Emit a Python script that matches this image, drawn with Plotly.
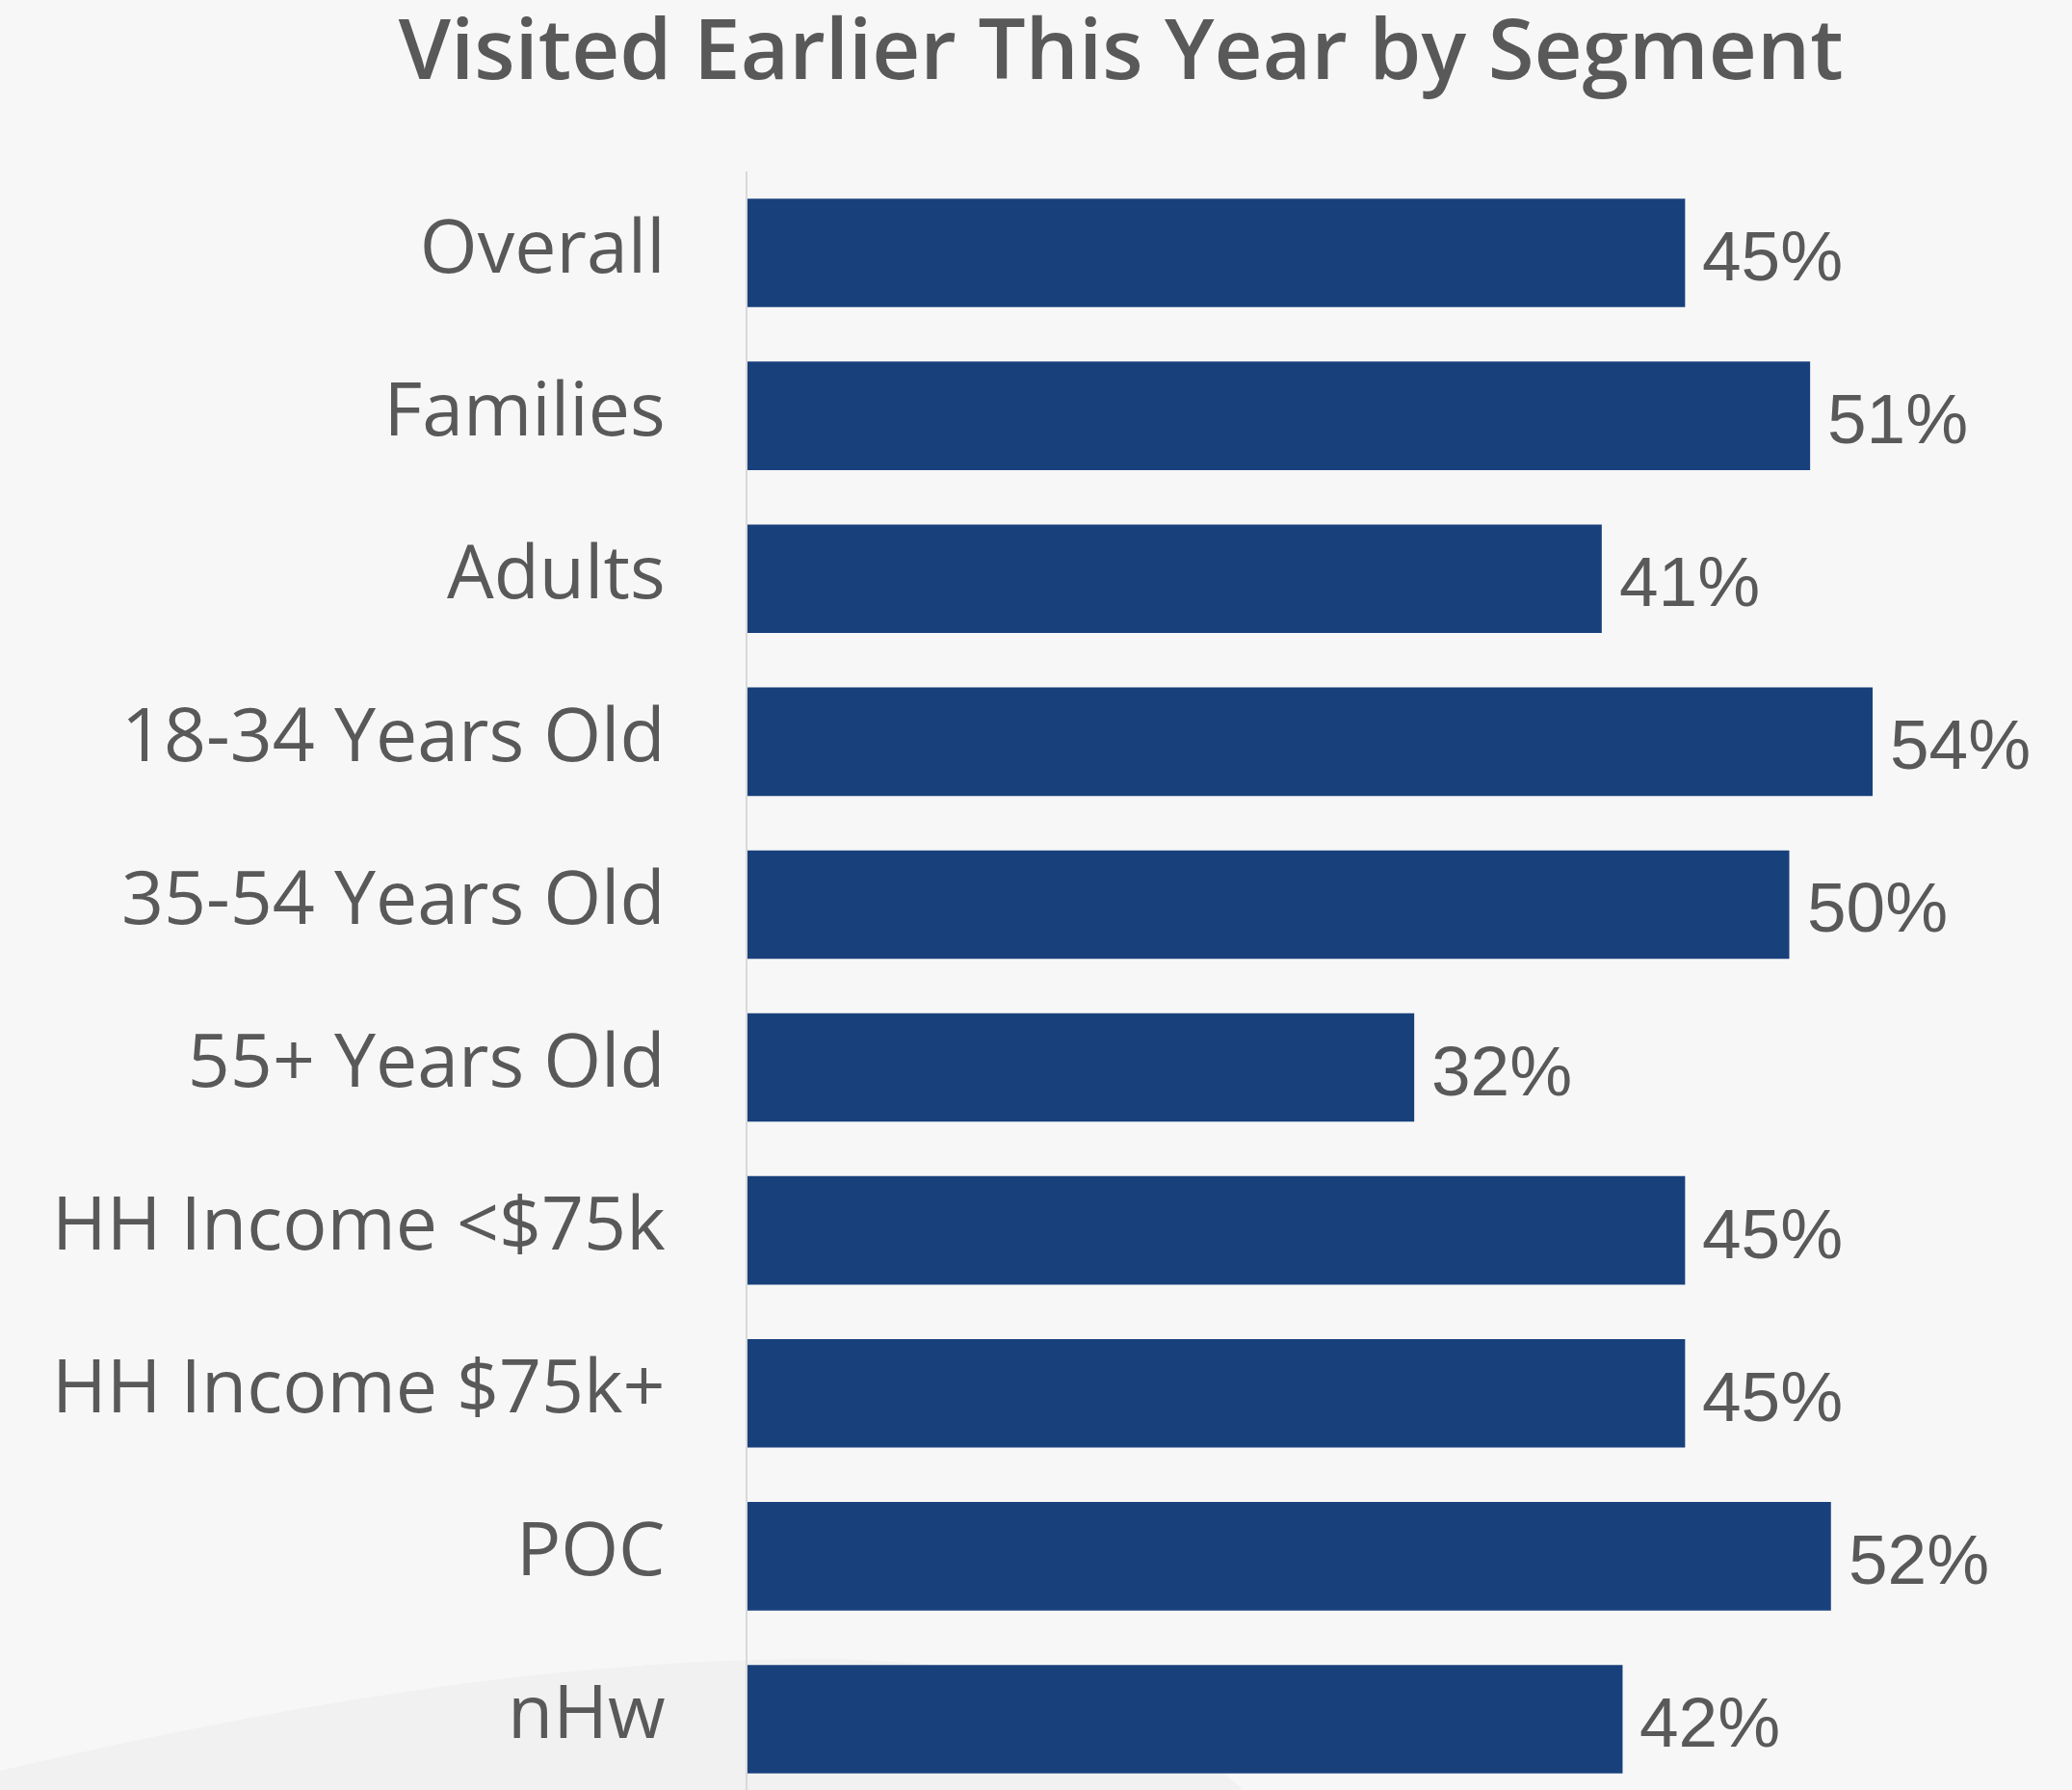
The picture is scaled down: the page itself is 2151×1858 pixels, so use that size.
import plotly.graph_objects as go

# Share of each segment that visited earlier this year (%)
segments = [
    "Overall", "Families", "Adults", "18-34 Years Old", "35-54 Years Old",
    "55+ Years Old", "HH Income <$75k", "HH Income $75k+", "POC", "nHw",
]
visited_pct = [45, 51, 41, 54, 50, 32, 45, 45, 52, 42]
value_labels = [f"{v}%" for v in visited_pct]

BAR_COLOR = "#18417C"
TEXT_COLOR = "#595959"
BG_COLOR = "#F7F7F7"

W, H = 2151, 1858
M_L, M_T = 776, 178
plot_w = W - M_L
plot_h = H - M_T
px_per_pct = 21.63
px_per_cat = 169.1

fig = go.Figure(
    go.Bar(
        x=visited_pct,
        y=segments,
        orientation="h",
        marker=dict(color=BAR_COLOR, line=dict(width=0)),
        hoverinfo="skip",
    )
)

# value labels just right of each bar end
for seg, v, lab in zip(segments, visited_pct, value_labels):
    fig.add_annotation(
        x=v, y=seg, xref="x", yref="y",
        text=lab, showarrow=False,
        xanchor="left", yanchor="middle", xshift=16, yshift=-3,
        font=dict(family="Liberation Sans, Arial, sans-serif", size=73, color=TEXT_COLOR),
    )

# soft light-grey swoosh in the lower left of the background
def px_to_paper(px, py):
    return (px - M_L) / plot_w, (H - py) / plot_h

pts = [(0, 1838), (250, 1780), (550, 1722), (850, 1722),
       (1100, 1722), (1230, 1800), (1290, 1858), (0, 1858)]
pp = [px_to_paper(x, y) for x, y in pts]
path = (f"M {pp[0][0]},{pp[0][1]} C {pp[1][0]},{pp[1][1]} {pp[2][0]},{pp[2][1]} {pp[3][0]},{pp[3][1]} "
        f"C {pp[4][0]},{pp[4][1]} {pp[5][0]},{pp[5][1]} {pp[6][0]},{pp[6][1]} "
        f"L {pp[7][0]},{pp[7][1]} Z")
fig.add_shape(type="path", path=path, xref="paper", yref="paper",
              fillcolor="#F1F1F1", line=dict(width=0), layer="below")

fig.update_layout(
    width=W, height=H,
    margin=dict(l=M_L, r=0, t=M_T, b=0, pad=0),
    paper_bgcolor=BG_COLOR,
    plot_bgcolor="rgba(0,0,0,0)",
    bargap=0.334,
    showlegend=False,
    title=dict(
        text="Visited Earlier This Year by Segment",
        x=1163.7 / W, xanchor="center",
        y=1 - 52 / H, yanchor="middle", yref="container",
        font=dict(family="Open Sans, sans-serif", size=87, color=TEXT_COLOR, weight=600),
    ),
    xaxis=dict(
        range=[0, plot_w / px_per_pct],
        visible=False,
        showgrid=False, zeroline=False,
    ),
    yaxis=dict(
        categoryorder="array", categoryarray=segments,
        range=[-0.5 + plot_h / px_per_cat, -0.5],
        showgrid=False, zeroline=False,
        showline=True, linecolor="#D9D9D9", linewidth=2,
        ticks="outside", ticklen=68, tickcolor="rgba(0,0,0,0)",
        ticklabelshift=7,
        tickfont=dict(family="Open Sans, sans-serif", size=77, color=TEXT_COLOR),
    ),
)

fig.write_html("out.html")
